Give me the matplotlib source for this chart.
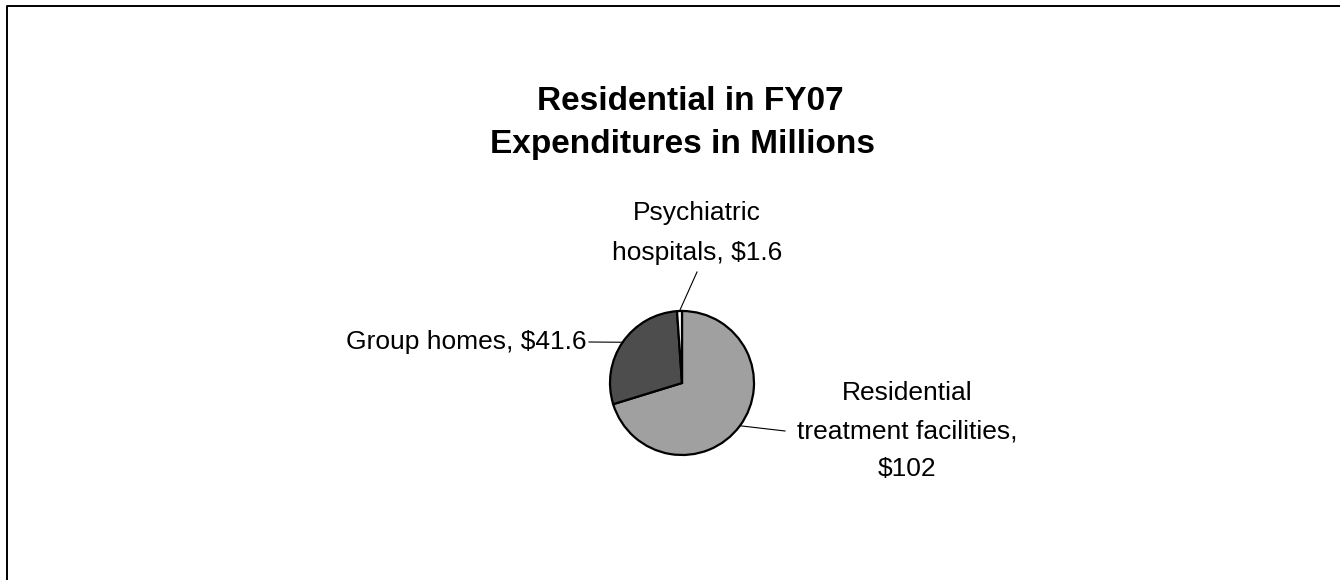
import numpy as np
import matplotlib
matplotlib.use("Agg")
import matplotlib.pyplot as plt

# Residential spending, FY07 (millions of dollars)
categories = ["Residential\ntreatment facilities,\n$102", "Group homes, $41.6", "Psychiatric\nhospitals, $1.6"]
values = [102, 41.6, 1.6]
colors = ["#A0A0A0", "#4D4D4D", "#FFFFFF"]

title_lines = ["Residential in FY07", "Expenditures in Millions"]

plt.rcParams["font.family"] = ["Liberation Sans", "DejaVu Sans"]

W, H = 1340, 580
fig = plt.figure(figsize=(W / 100, H / 100), dpi=100)
ax = fig.add_axes([0, 0, 1, 1])
ax.set_xlim(0, W)
ax.set_ylim(0, H)
ax.set_aspect("equal")
ax.axis("off")

# chart frame (open on the right and bottom edges)
ax.plot([7, 7, W + 5], [-5, H - 6, H - 6], color="black", lw=1.4, solid_capstyle="butt")

cx, cy, r = 682, H - 383, 72
wedges, _ = ax.pie(values, colors=colors, startangle=90, counterclock=False,
                   center=(cx, cy), radius=r, frame=True,
                   wedgeprops=dict(edgecolor="black", linewidth=1.6))
ax.set_xlim(0, W)
ax.set_ylim(0, H)
ax.axis("off")

fs = 19
# leader line targets and label placement
label_info = [
    # (text position, text alignment, leader end point, line spacing)
    ((907, H - 431), "center", (785, H - 431), 1.72),
    ((587, H - 342), "right", (589, H - 342), 1.0),
    ((697, H - 233), "center", (697, H - 272), 1.8),
]
for w, txt, (tpos, ha, lend, ls) in zip(wedges, categories, label_info):
    mid = np.deg2rad((w.theta1 + w.theta2) / 2)
    px, py = cx + r * np.cos(mid), cy + r * np.sin(mid)
    ax.plot([px, lend[0]], [py, lend[1]], color="black", lw=0.8)
    ax.text(tpos[0], tpos[1], txt, ha=ha, va="center", fontsize=fs,
            linespacing=ls, multialignment="center")

ax.text(690, H - 101, title_lines[0], ha="center", va="center",
        fontsize=24, fontweight="bold")
ax.text(682, H - 144, title_lines[1], ha="center", va="center",
        fontsize=24, fontweight="bold")

fig.savefig("out.png", dpi=100, facecolor="white")
